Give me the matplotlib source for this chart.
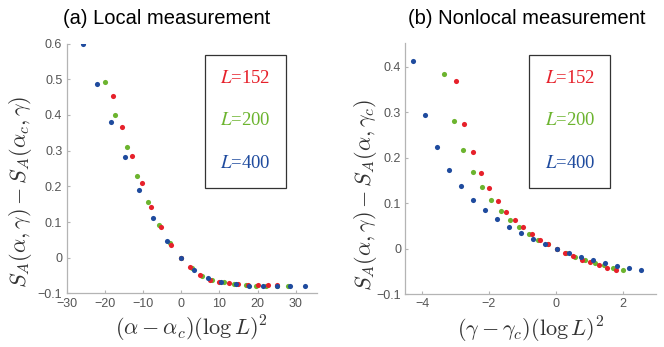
import matplotlib.pyplot as plt
from matplotlib.patches import Rectangle

# ----------------------------
# Data
# ----------------------------

# (a) local measurement
a_x_152 = [-17.9, -15.4, -12.8, -10.3, -7.8, -5.2, -2.7, 0.0, 2.3, 4.9, 7.5, 9.9,
           12.6, 15.0, 17.4, 20.1, 22.7, 25.2]
a_y_152 = [0.453, 0.366, 0.285, 0.210, 0.143, 0.086, 0.037, 0.0, -0.027, -0.047,
           -0.061, -0.067, -0.071, -0.074, -0.076, -0.076, -0.077, -0.077]
a_x_200 = [-19.9, -17.2, -14.3, -11.5, -8.6, -5.8, -2.9, 0.0, 2.8, 5.5, 8.2, 11.1,
           13.9, 16.9, 19.6, 22.3, 25.1, 28.0]
a_y_200 = [0.493, 0.399, 0.311, 0.230, 0.156, 0.092, 0.041, 0.0, -0.030, -0.050,
           -0.063, -0.069, -0.073, -0.077, -0.078, -0.078, -0.078, -0.078]
a_x_400 = [-25.6, -21.9, -18.3, -14.6, -11.0, -7.4, -3.8, 0.0, 3.4, 7.1, 10.5, 14.3,
           17.8, 21.5, 25.1, 28.6, 32.3]
a_y_400 = [0.599, 0.487, 0.379, 0.281, 0.190, 0.112, 0.048, 0.0, -0.035, -0.056,
           -0.067, -0.074, -0.078, -0.080, -0.080, -0.080, -0.080]

# (b) nonlocal measurement
b_x_152 = [-2.99, -2.74, -2.49, -2.24, -1.99, -1.74, -1.48, -1.23, -0.98, -0.71,
           -0.47, -0.22, 0.03, 0.28, 0.52, 0.79, 1.03, 1.29, 1.54, 1.80]
b_y_152 = [0.370, 0.275, 0.212, 0.167, 0.133, 0.105, 0.082, 0.063, 0.048, 0.033,
           0.020, 0.010, 0.0, -0.009, -0.016, -0.024, -0.030, -0.036, -0.042, -0.046]
b_x_200 = [-3.33, -3.05, -2.77, -2.49, -2.21, -1.93, -1.65, -1.36, -1.09, -0.80,
           -0.52, -0.23, 0.05, 0.31, 0.59, 0.88, 1.16, 1.44, 1.72, 2.00]
b_y_200 = [0.385, 0.281, 0.217, 0.170, 0.135, 0.107, 0.083, 0.064, 0.048, 0.033,
           0.020, 0.010, 0.0, -0.009, -0.017, -0.024, -0.031, -0.036, -0.042, -0.047]
b_x_400 = [-4.26, -3.90, -3.54, -3.19, -2.83, -2.47, -2.11, -1.75, -1.39, -1.03,
           -0.67, -0.31, 0.05, 0.40, 0.76, 1.12, 1.48, 1.84, 2.20, 2.56]
b_y_400 = [0.413, 0.294, 0.224, 0.174, 0.138, 0.108, 0.085, 0.066, 0.048, 0.034,
           0.021, 0.010, 0.0, -0.009, -0.017, -0.024, -0.031, -0.037, -0.042, -0.047]

sizes = ["152", "200", "400"]
colors = {"152": "#e6212b", "200": "#6cb42f", "400": "#1f4b9e"}

a_ticks_x = [-30, -20, -10, 0, 10, 20, 30]
a_ticks_y = [-0.1, 0, 0.1, 0.2, 0.3, 0.4, 0.5, 0.6]
b_ticks_x = [-4, -2, 0, 2]
b_ticks_y = [-0.1, 0, 0.1, 0.2, 0.3, 0.4]

# ----------------------------
# Figure
# ----------------------------

plt.rcParams["mathtext.fontset"] = "cm"

fig = plt.figure(figsize=(6.64, 3.47), dpi=100)
ax1 = fig.add_axes([0.1002, 0.1542, 0.3768, 0.7204])
ax2 = fig.add_axes([0.6104, 0.1520, 0.3776, 0.7232])


def style_axes(ax, xt, yt):
    for s in ["top", "right"]:
        ax.spines[s].set_visible(False)
    for s in ["left", "bottom"]:
        ax.spines[s].set_color("#b4b4b4")
        ax.spines[s].set_linewidth(0.9)
    ax.set_xticks(xt)
    ax.set_yticks(yt)
    ax.set_xticklabels(["\u2212" + str(abs(v)) if v < 0 else str(v) for v in xt])
    ax.set_yticklabels(["\u22120.1" if v < 0 else ("0" if v == 0 else f"{v:g}") for v in yt])
    ax.tick_params(direction="in", length=2.5, width=0.8, color="#b4b4b4",
                   labelsize=9, labelcolor="#555555", pad=3)
    for lab in ax.get_xticklabels() + ax.get_yticklabels():
        lab.set_family("Liberation Sans")


style = dict(marker="o", linestyle="none", markersize=3.7, markeredgewidth=0)

ax1.plot(a_x_200, a_y_200, color=colors["200"], **style)
ax1.plot(a_x_152, a_y_152, color=colors["152"], **style)
ax1.plot(a_x_400, a_y_400, color=colors["400"], **style)
ax1.set_xlim(-30, 35.5)
ax1.set_ylim(-0.1, 0.6)
style_axes(ax1, a_ticks_x, a_ticks_y)
ax1.set_xlabel(r"$(\alpha-\alpha_c)(\log L)^2$", fontsize=16, color="#333333", labelpad=3)
ax1.set_ylabel(r"$S_A(\alpha,\gamma)-S_A(\alpha_c,\gamma)$", fontsize=16, color="#333333")
ax1.yaxis.set_label_coords(-0.13, 0.405)

ax2.plot(b_x_200, b_y_200, color=colors["200"], **style)
ax2.plot(b_x_152, b_y_152, color=colors["152"], **style)
ax2.plot(b_x_400, b_y_400, color=colors["400"], **style)
ax2.set_xlim(-4.5, 3.0)
ax2.set_ylim(-0.1, 0.452)
style_axes(ax2, b_ticks_x, b_ticks_y)
ax2.set_xlabel(r"$(\gamma-\gamma_c)(\log L)^2$", fontsize=16, color="#333333", labelpad=3)
ax2.set_ylabel(r"$S_A(\alpha,\gamma)-S_A(\alpha,\gamma_c)$", fontsize=16, color="#333333")
ax2.yaxis.set_label_coords(-0.105, 0.395)

# titles
fig.text(0.251, 0.946, "(a) Local measurement", ha="center", va="center",
         fontsize=14.5, family="Liberation Sans")
fig.text(0.794, 0.946, "(b) Nonlocal measurement", ha="center", va="center",
         fontsize=14.5, family="Liberation Sans")

# legend boxes
for bx, tx in [(0.3087, 0.3697), (0.7971, 0.8584)]:
    fig.patches.append(Rectangle((bx, 0.459), 0.122, 0.3824, transform=fig.transFigure,
                                 fill=False, edgecolor="#333333", linewidth=0.9))
    for L, ty in zip(sizes, [0.7744, 0.6513, 0.5294]):
        fig.text(tx, ty, "$L$=" + L, ha="center", va="center", fontsize=13.5,
                 family="Liberation Serif", math_fontfamily="stix", color=colors[L])

plt.savefig("out.png", dpi=100)
plt.close()
